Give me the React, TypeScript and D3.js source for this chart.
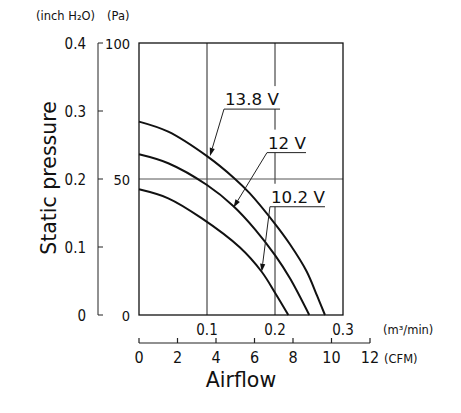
import * as d3 from "d3";

// P-Q curves, airflow in m3/min, static pressure in Pa
const flow138 = [0, 0.043, 0.1, 0.14, 0.163, 0.2, 0.222, 0.2466, 0.262, 0.2735];
const press138 = [71.1, 67.4, 58.4, 50.3, 44.7, 33.5, 26, 16, 7, 0];
const flow12 = [0, 0.043, 0.1, 0.139, 0.1706, 0.2, 0.222, 0.2504];
const press12 = [59.1, 55.8, 47.8, 40, 31.5, 22, 13.5, 0];
const flow102 = [0, 0.043, 0.092, 0.1485, 0.1804, 0.2, 0.2196];
const press102 = [46.2, 42.9, 35.6, 24.8, 15.9, 8.2, 0];

const voltLabels = ["13.8 V", "12 V", "10.2 V"];
// label underline start / end and arrow tip, in data units
const labelFlowStart = [0.125, 0.1882, 0.1926];
const labelFlowEnd = [0.2074, 0.2456, 0.2735];
const labelPress = [75.7, 59.7, 39.8];
const tipFlow = [0.1044, 0.139, 0.1804];
const tipPress = [58.5, 39.5, 15.9];

const flowTicks = [0.1, 0.2, 0.3];
const cfmTicks = [0, 2, 4, 6, 8, 10, 12];
const inchTicks = [0, 0.1, 0.2, 0.3, 0.4];
const paTicks = [0, 50, 100];

const W = 461;
const H = 413;
const numFont = "'DejaVu Sans Condensed', 'DejaVu Sans', sans-serif";
const txtFont = "'DejaVu Sans', sans-serif";

export default function App() {
  const x = d3.scaleLinear().domain([0, 0.3]).range([139, 343]);
  const y = d3.scaleLinear().domain([0, 100]).range([315, 43]);
  const yIn = d3.scaleLinear().domain([0, 0.4]).range([315, 43]);
  const xCfm = d3.scaleLinear().domain([0, 12]).range([139, 370]);

  const line = d3
    .line<number[]>()
    .x((d) => x(d[0]))
    .y((d) => y(d[1]))
    .curve(d3.curveCatmullRom.alpha(0.5));

  const series = [
    d3.zip(flow138, press138),
    d3.zip(flow12, press12),
    d3.zip(flow102, press102),
  ];

  const inchAxisX = 98;

  return (
    <svg
      width={W}
      height={H}
      style={{ position: "absolute", left: 0, top: 0, background: "#fff" }}
    >
      {/* grid */}
      {flowTicks.slice(0, 2).map((t) => (
        <line key={t} x1={x(t)} x2={x(t)} y1={y(100)} y2={y(0)} stroke="#222" strokeWidth={1} />
      ))}
      <line x1={x(0)} x2={x(0.3)} y1={y(50)} y2={y(50)} stroke="#555" strokeWidth={1} />

      {/* curves */}
      {series.map((s, i) => (
        <path key={i} d={line(s) || ""} fill="none" stroke="#111" strokeWidth={2} />
      ))}

      {/* frame */}
      <rect
        x={x(0)}
        y={y(100)}
        width={x(0.3) - x(0)}
        height={y(0) - y(100)}
        fill="none"
        stroke="#111"
        strokeWidth={1.3}
      />

      {/* voltage labels */}
      {voltLabels.map((lab, i) => {
        const x0 = x(labelFlowStart[i]);
        const x1 = x(labelFlowEnd[i]);
        const yl = y(labelPress[i]);
        const tx = x(tipFlow[i]);
        const ty = y(tipPress[i]);
        const ang = Math.atan2(ty - yl, tx - x0);
        const al = 8;
        const aw = 2.6;
        const bx = tx - al * Math.cos(ang);
        const by = ty - al * Math.sin(ang);
        const px = -Math.sin(ang) * aw;
        const py = Math.cos(ang) * aw;
        return (
          <g key={lab}>
            <rect x={x0} y={yl - 23} width={x1 - x0} height={23} fill="#fff" />
            <text
              x={x0 + 1}
              y={yl - 4}
              fontFamily={txtFont}
              fontSize={16.7}
              fill="#111"
            >
              {lab}
            </text>
            <line x1={x0} x2={x1} y1={yl} y2={yl} stroke="#222" strokeWidth={1} />
            <line x1={x0} y1={yl} x2={bx} y2={by} stroke="#222" strokeWidth={1} />
            <path
              d={`M${tx},${ty}L${bx + px},${by + py}L${bx - px},${by - py}Z`}
              fill="#111"
            />
          </g>
        );
      })}

      {/* left inch H2O axis */}
      <line x1={inchAxisX} x2={inchAxisX} y1={yIn(0.4)} y2={yIn(0)} stroke="#222" strokeWidth={1} />
      {inchTicks.map((t) => (
        <g key={t}>
          <line x1={inchAxisX} x2={inchAxisX + 5} y1={yIn(t)} y2={yIn(t)} stroke="#222" strokeWidth={1} />
          <text
            x={86}
            y={yIn(t) + 5.5}
            textAnchor="end"
            fontFamily={numFont}
            fontSize={15}
            fill="#111"
          >
            {t === 0 ? "0" : t.toFixed(1)}
          </text>
        </g>
      ))}

      {/* Pa labels */}
      {paTicks.map((t) => (
        <text
          key={t}
          x={130}
          y={y(t) + 5.5}
          textAnchor="end"
          fontFamily={numFont}
          fontSize={14.5}
          fill="#111"
        >
          {t}
        </text>
      ))}

      <text x={36} y={20} fontFamily={txtFont} fontSize={11.5} fill="#111">
        (inch H₂O)
      </text>
      <text x={107} y={20} fontFamily={txtFont} fontSize={11.5} fill="#111">
        (Pa)
      </text>

      <text
        transform={`translate(56,178) rotate(-90)`}
        textAnchor="middle"
        fontFamily={txtFont}
        fontSize={20.5}
        fill="#111"
      >
        Static pressure
      </text>

      {/* m3/min labels */}
      {flowTicks.map((t) => (
        <text
          key={t}
          x={x(t)}
          y={335}
          textAnchor="middle"
          fontFamily={numFont}
          fontSize={15}
          fill="#111"
        >
          {t.toFixed(1)}
        </text>
      ))}
      <text x={383} y={334} fontFamily={txtFont} fontSize={11.5} fill="#111">
        (m³/min)
      </text>

      {/* CFM axis */}
      <line x1={xCfm(0)} x2={xCfm(12)} y1={343} y2={343} stroke="#222" strokeWidth={1.2} />
      {cfmTicks.map((t) => (
        <g key={t}>
          <line x1={xCfm(t)} x2={xCfm(t)} y1={343} y2={338} stroke="#222" strokeWidth={1.2} />
          <text
            x={xCfm(t)}
            y={363}
            textAnchor="middle"
            fontFamily={numFont}
            fontSize={16}
            fill="#111"
          >
            {t}
          </text>
        </g>
      ))}
      <text x={384} y={363} fontFamily={txtFont} fontSize={11.5} fill="#111">
        (CFM)
      </text>

      <text
        x={241}
        y={387}
        textAnchor="middle"
        fontFamily={txtFont}
        fontSize={20.5}
        fill="#111"
      >
        Airflow
      </text>
    </svg>
  );
}
